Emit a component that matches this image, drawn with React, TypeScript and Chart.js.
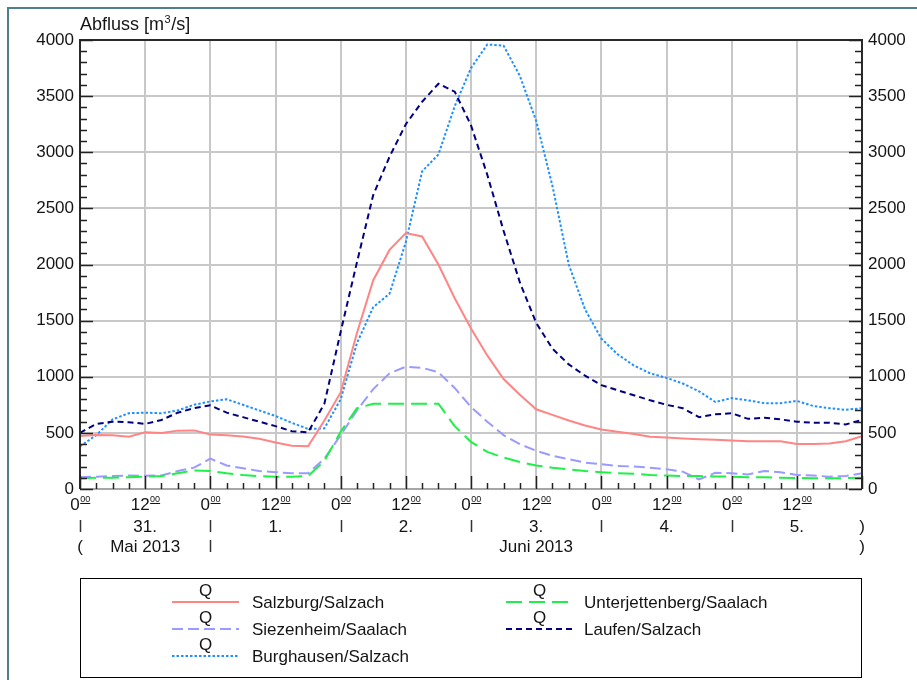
import React, { useEffect, useRef } from "react";
import { Chart, registerables } from "chart.js";

Chart.register(...registerables);

// time in hours since 31 May 2013 00:00
const hours = [
  0, 3, 6, 9, 12, 15, 18, 21, 24, 27, 30, 33, 36, 39, 42, 45, 48, 51, 54, 57, 60, 63, 66, 69, 72,
  75, 78, 81, 84, 87, 90, 93, 96, 99, 102, 105, 108, 111, 114, 117, 120, 123, 126, 129, 132, 135,
  138, 141, 144,
];

const salzburg = [
  472, 480, 478, 465, 505, 500, 520, 522, 485, 478, 468, 448, 415, 385, 380, 610, 860, 1390, 1860,
  2130, 2280, 2250, 2000, 1700, 1430, 1190, 980, 840, 710, 660, 610, 565, 530, 510, 490, 465, 458,
  450, 443, 438, 433, 425, 425, 425, 400, 400, 405, 425, 470,
];

const unterjettenberg = [
  95, 100, 100, 105, 110, 115, 140, 165, 160, 140, 125, 115, 110, 110, 115, 250, 510, 720, 760, 760,
  760, 760, 760, 560, 420, 330, 280, 240, 210, 190, 175, 160, 150, 140, 135, 125, 120, 115, 115, 112,
  110, 105, 105, 100, 98, 95, 95, 97, 100,
];

const siezenheim = [
  105, 110, 115, 120, 118, 120, 160, 190, 270, 210, 185, 160, 150, 140, 140, 270, 480, 700, 890,
  1030, 1090, 1080, 1040, 900, 730, 600, 480, 400, 340, 295, 265, 235, 220, 205, 200, 190, 175, 155,
  85, 145, 140, 130, 160, 150, 125, 120, 110, 115, 140,
];

const laufen = [
  500, 580, 600, 595, 580, 615, 680, 720, 745, 680, 640, 600, 560, 515, 505, 760, 1400, 2020, 2620,
  2960, 3250, 3450, 3610, 3540, 3240, 2800, 2300, 1840, 1480, 1250, 1110, 1010, 925, 880, 835, 790,
  750, 720, 640, 665, 675, 625, 635, 620, 600, 590, 590, 575, 615,
];

const burghausen = [
  380, 480, 620, 675, 680, 675, 700, 750, 780, 800, 750, 700, 650, 590, 535, 540, 800, 1300, 1620,
  1740, 2200, 2830, 2980, 3410, 3750, 3960, 3950, 3680, 3280, 2700, 2000, 1600, 1340, 1200, 1100,
  1030, 990, 940, 870, 775, 810, 790, 765, 765, 785, 740, 720, 705, 720,
];

const seriesNames = [
  "Salzburg/Salzach",
  "Unterjettenberg/Saalach",
  "Siezenheim/Saalach",
  "Laufen/Salzach",
  "Burghausen/Salzach",
];
const seriesColors = ["#ff8585", "#1ef046", "#9a9aff", "#000080", "#1e90ff"];
const seriesDashes: number[][] = [[], [16, 7], [11, 5], [6, 4], [2.5, 2]];

const hourLabelHours = [0, 12, 24, 36, 48, 60, 72, 84, 96, 108, 120, 132];
const hourLabelText = ["0", "12", "0", "12", "0", "12", "0", "12", "0", "12", "0", "12"];
const dayLabelHours = [12, 36, 60, 84, 108, 132];
const dayLabels = ["31.", "1.", "2.", "3.", "4.", "5."];
const dayBoundaryHours = [0, 24, 48, 72, 96, 120];
const monthLabels = ["Mai 2013", "Juni 2013"];
const monthLabelHours = [12, 84];
const monthBoundaryHours = [24];

const FONT = "'Liberation Sans', Arial, sans-serif";
const TXT = "#141414";
const FS = 17;

function drawSup(ctx: CanvasRenderingContext2D, x: number, main: string, sup: string, base: number) {
  ctx.font = `${FS}px ${FONT}`;
  const w1 = ctx.measureText(main).width;
  ctx.font = `9px ${FONT}`;
  const w2 = ctx.measureText(sup).width;
  const x0 = x - (w1 + w2) / 2;
  ctx.textAlign = "left";
  ctx.textBaseline = "alphabetic";
  ctx.font = `${FS}px ${FONT}`;
  ctx.fillText(main, x0, base);
  ctx.font = `9px ${FONT}`;
  ctx.fillText(sup, x0 + w1 + 0.5, base - 8);
  ctx.fillRect(x0 + w1 + 0.5, base - 7, w2, 1);
}

const overlay = {
  id: "overlay",
  afterDraw(chart: any) {
    const ctx: CanvasRenderingContext2D = chart.ctx;
    const { left, right, top, bottom } = chart.chartArea;
    const xs = chart.scales.x;
    const ys = chart.scales.y;
    ctx.save();

    // outer frame
    ctx.strokeStyle = "#4f7f8e";
    ctx.lineWidth = 2;
    ctx.beginPath();
    ctx.moveTo(8, 680);
    ctx.lineTo(8, 8);
    ctx.lineTo(917, 8);
    ctx.stroke();

    // plot frame
    ctx.lineWidth = 2;
    ctx.strokeStyle = "#a6a6a6";
    ctx.beginPath();
    ctx.moveTo(left, bottom);
    ctx.lineTo(right, bottom);
    ctx.stroke();
    ctx.strokeStyle = "#2a2a2a";
    ctx.beginPath();
    ctx.moveTo(left, bottom);
    ctx.lineTo(left, top);
    ctx.lineTo(right, top);
    ctx.lineTo(right, bottom);
    ctx.stroke();

    // y ticks
    ctx.lineWidth = 1.5;
    ctx.strokeStyle = "#222";
    for (let v = 0; v <= 4000; v += 100) {
      const y = Math.round(ys.getPixelForValue(v)) + 0.5;
      const len = v % 500 === 0 ? 13 : 7;
      ctx.beginPath();
      ctx.moveTo(left, y);
      ctx.lineTo(left + len, y);
      ctx.moveTo(right, y);
      ctx.lineTo(right - len, y);
      ctx.stroke();
    }
    // x ticks
    for (let h = 0; h <= 144; h += 3) {
      const x = Math.round(xs.getPixelForValue(h)) + 0.5;
      const len = h % 12 === 0 ? 13 : 6;
      ctx.beginPath();
      ctx.moveTo(x, bottom);
      ctx.lineTo(x, bottom - len);
      ctx.stroke();
    }

    // x labels
    ctx.fillStyle = TXT;
    hourLabelHours.forEach((h, i) => {
      drawSup(ctx, xs.getPixelForValue(h), hourLabelText[i], "00", 510);
    });
    ctx.font = `${FS}px ${FONT}`;
    ctx.textAlign = "center";
    ctx.textBaseline = "alphabetic";
    dayLabelHours.forEach((h, i) => {
      ctx.fillText(dayLabels[i], xs.getPixelForValue(h), 532);
    });
    monthLabelHours.forEach((h, i) => {
      ctx.fillText(monthLabels[i], xs.getPixelForValue(h), 552);
    });
    ctx.fillText(")", right, 532);
    ctx.fillText(")", right, 552);
    ctx.fillText("(", left, 552);
    ctx.lineWidth = 1.5;
    ctx.strokeStyle = "#333";
    dayBoundaryHours.forEach((h) => {
      const x = Math.round(xs.getPixelForValue(h)) + 0.5;
      ctx.beginPath();
      ctx.moveTo(x, 520);
      ctx.lineTo(x, 532);
      ctx.stroke();
    });
    monthBoundaryHours.forEach((h) => {
      const x = Math.round(xs.getPixelForValue(h)) + 0.5;
      ctx.beginPath();
      ctx.moveTo(x, 540);
      ctx.lineTo(x, 552);
      ctx.stroke();
    });

    // axis title
    ctx.textAlign = "left";
    ctx.font = `18px ${FONT}`;
    const t1 = "Abfluss [m";
    ctx.fillText(t1, 80, 30);
    const w1 = ctx.measureText(t1).width;
    ctx.font = `11px ${FONT}`;
    ctx.fillText("3", 80 + w1 + 0.5, 23);
    const w2 = ctx.measureText("3").width;
    ctx.font = `18px ${FONT}`;
    ctx.fillText("/s]", 80 + w1 + w2 + 1, 30);

    // legend box
    ctx.strokeStyle = "#000";
    ctx.lineWidth = 1;
    ctx.strokeRect(80.5, 578.5, 781, 99);
    const colSample = [172, 506];
    const colText = [252, 584];
    const rowY = [602, 629, 656];
    chart.data.datasets.forEach((ds: any, i: number) => {
      const c = i % 2;
      const r = Math.floor(i / 2);
      const y = rowY[r];
      const x0 = colSample[c];
      const x1 = x0 + 67;
      ctx.save();
      ctx.strokeStyle = ds.borderColor;
      ctx.lineWidth = 2;
      ctx.setLineDash(ds.borderDash || []);
      ctx.beginPath();
      ctx.moveTo(x0, y);
      ctx.lineTo(x1, y);
      ctx.stroke();
      ctx.restore();
      ctx.fillStyle = TXT;
      ctx.font = `${FS}px ${FONT}`;
      ctx.textAlign = "center";
      ctx.textBaseline = "alphabetic";
      ctx.fillText("Q", (x0 + x1) / 2, y - 6);
      ctx.textAlign = "left";
      ctx.textBaseline = "middle";
      ctx.fillText(ds.label, colText[c], y + 1);
    });

    ctx.restore();
  },
};

export default function App() {
  const ref = useRef<HTMLCanvasElement>(null);
  useEffect(() => {
    if (!ref.current) return;
    const values = [salzburg, unterjettenberg, siezenheim, laufen, burghausen];
    const datasets = values.map((vals, i) => ({
      label: seriesNames[i],
      data: hours.map((h, k) => ({ x: h, y: vals[k] })),
      borderColor: seriesColors[i],
      backgroundColor: seriesColors[i],
      borderWidth: 2,
      borderDash: seriesDashes[i],
      pointRadius: 0,
      tension: 0,
      fill: false,
    }));
    const tickFont = { family: FONT, size: FS };
    const fmt = (v: any) => String(v);
    const chart = new Chart(ref.current, {
      type: "line",
      data: { datasets },
      options: {
        animation: false,
        responsive: false,
        maintainAspectRatio: false,
        devicePixelRatio: 1,
        layout: { padding: { top: 40, left: 0, right: 0, bottom: 0 } },
        plugins: { legend: { display: false }, tooltip: { enabled: false } },
        scales: {
          x: {
            type: "linear",
            min: 0,
            max: 144,
            ticks: { stepSize: 12, display: false },
            grid: { color: "#c8c8c8", lineWidth: 2, drawTicks: false },
            border: { display: false },
            afterFit: (s: any) => {
              s.height = 191;
            },
          },
          y: {
            position: "left",
            min: 0,
            max: 4000,
            ticks: { stepSize: 500, font: tickFont, color: TXT, padding: 6, callback: fmt },
            grid: { color: "#c8c8c8", lineWidth: 2, drawTicks: false },
            border: { display: false },
            afterFit: (s: any) => {
              s.width = 80;
            },
          },
          y2: {
            position: "right",
            min: 0,
            max: 4000,
            ticks: { stepSize: 500, font: tickFont, color: TXT, padding: 6, callback: fmt },
            grid: { display: false, drawTicks: false },
            border: { display: false },
            afterFit: (s: any) => {
              s.width = 55;
            },
          },
        },
      } as any,
      plugins: [overlay],
    });
    return () => chart.destroy();
  }, []);
  return (
    <div style={{ position: "absolute", left: 0, top: 0, width: 917, height: 680, background: "#fff" }}>
      <canvas ref={ref} width={917} height={680} style={{ display: "block" }} />
    </div>
  );
}
